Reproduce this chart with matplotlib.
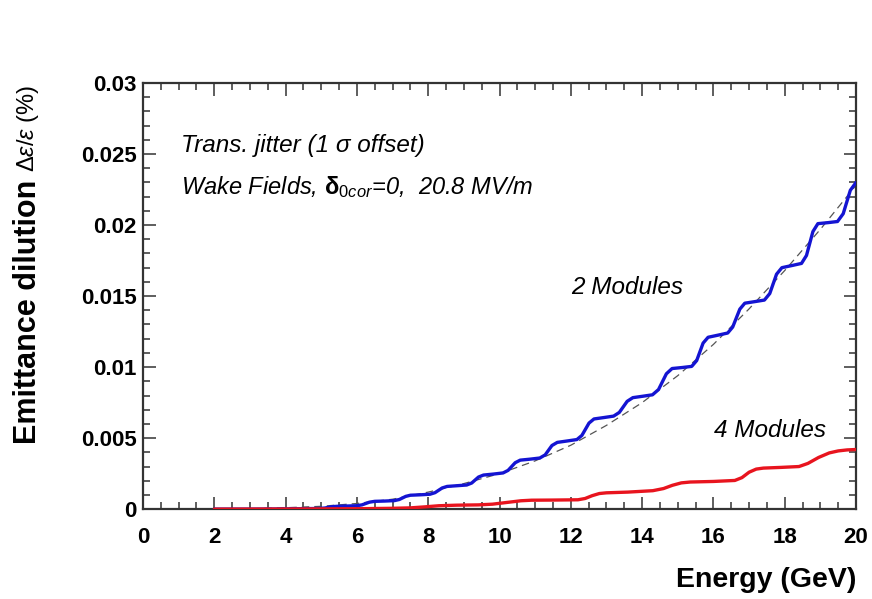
import matplotlib
matplotlib.use("Agg")
import matplotlib.pyplot as plt
from matplotlib.ticker import MultipleLocator

plt.rcParams['font.family'] = ['Liberation Sans', 'DejaVu Sans']
plt.rcParams['mathtext.fontset'] = 'custom'
plt.rcParams['mathtext.rm'] = 'Liberation Sans'
plt.rcParams['mathtext.it'] = 'Liberation Sans:italic'
plt.rcParams['mathtext.bf'] = 'Liberation Sans:bold'

# ---- data ----
blue_E = [2.0, 3.0, 3.8,
          4.40, 4.68, 4.95, 5.10, 5.29,
          5.44, 5.72, 5.99, 6.14, 6.35,
          6.50, 6.78, 7.05, 7.19, 7.37,
          7.50, 7.78, 8.05, 8.19, 8.39,
          8.53, 8.81, 9.08, 9.22, 9.41,
          9.55, 9.83, 10.10, 10.24, 10.44,
          10.58, 10.86, 11.13, 11.28, 11.47,
          11.62, 11.90, 12.17, 12.31, 12.51,
          12.65, 12.93, 13.20, 13.36, 13.58,
          13.74, 14.02, 14.29, 14.46, 14.68,
          14.84, 15.12, 15.39, 15.53, 15.71,
          15.85, 16.13, 16.40, 16.54, 16.74,
          16.88, 17.16, 17.43, 17.58, 17.77,
          17.92, 18.20, 18.47, 18.61, 18.79,
          18.93, 19.21, 19.48, 19.64, 19.84, 20.0]
blue_V = [0.0, 0.0, 0.00001,
          0.00003, 0.00004, 0.00005, 0.00008, 0.00017,
          0.00020, 0.00022, 0.00024, 0.00030, 0.00049,
          0.00055, 0.00057, 0.00060, 0.00068, 0.00090,
          0.00098, 0.00101, 0.00105, 0.00116, 0.00149,
          0.00160, 0.00165, 0.00170, 0.00184, 0.00226,
          0.00240, 0.00247, 0.00255, 0.00273, 0.00327,
          0.00345, 0.00352, 0.00360, 0.00382, 0.00448,
          0.00470, 0.00480, 0.00490, 0.00519, 0.00606,
          0.00635, 0.00645, 0.00655, 0.00681, 0.00759,
          0.00785, 0.00795, 0.00805, 0.00842, 0.00953,
          0.00990, 0.00997, 0.01005, 0.01046, 0.01169,
          0.01210, 0.01225, 0.01240, 0.01282, 0.01408,
          0.01450, 0.01461, 0.01472, 0.01518, 0.01654,
          0.01700, 0.01715, 0.01730, 0.01786, 0.01954,
          0.02010, 0.02017, 0.02025, 0.02080, 0.02245, 0.02300]

red_E = [2.0, 4.0, 6.0, 7.0, 7.5, 7.9, 8.3, 8.8, 9.4, 9.8, 10.2, 10.6, 10.9, 11.5, 12.2,
         12.4, 12.6, 12.8, 13.0, 13.6, 14.3, 14.6, 14.85, 15.1, 15.35, 16.0, 16.6, 16.8,
         17.0, 17.2, 17.4, 17.9, 18.4, 18.65, 18.95, 19.25, 19.5, 19.75, 20.0]
red_V = [0.0, 0.00001, 0.00003, 0.00006, 0.00009, 0.00016, 0.00024, 0.00028, 0.00030,
         0.00035, 0.00047, 0.00059, 0.00063, 0.00064, 0.00066, 0.00075, 0.00095, 0.00110,
         0.00115, 0.00120, 0.00130, 0.00145, 0.00168, 0.00185, 0.00191, 0.00195, 0.00202,
         0.00222, 0.00260, 0.00282, 0.00289, 0.00294, 0.00300, 0.00322, 0.00364, 0.00396,
         0.00410, 0.00417, 0.00420]

fit_E = [2, 3, 4, 5, 6, 7, 8, 9, 10, 11, 12, 13, 14, 15, 16, 17, 18, 19, 20]
fit_V = [0.0, 0.00002, 0.0001, 0.0002, 0.0004, 0.0007, 0.0012, 0.0018, 0.0025, 0.0034,
         0.0045, 0.0059, 0.0075, 0.0094, 0.0116, 0.0141, 0.0168, 0.0197, 0.0228]

x_ticks = [0, 2, 4, 6, 8, 10, 12, 14, 16, 18, 20]
y_ticks = [0, 0.005, 0.01, 0.015, 0.02, 0.025, 0.03]
y_tick_labels = ["0", "0.005", "0.01", "0.015", "0.02", "0.025", "0.03"]

# ---- figure ----
fig = plt.figure(figsize=(8.72, 5.99), dpi=100)
ax = fig.add_axes([0.164, 0.150, 0.8177, 0.7114])

ax.plot(fit_E, fit_V, color="#555555", lw=0.9, ls=(0, (6, 4)), zorder=2)
ax.plot(blue_E, blue_V, color="#1414d2", lw=2.4, zorder=3,
        solid_joinstyle='round', solid_capstyle='round')
ax.plot(red_E, red_V, color="#e8141e", lw=2.4, zorder=4,
        solid_joinstyle='round', solid_capstyle='round')

ax.set_xlim(0, 20)
ax.set_ylim(0, 0.03)
ax.set_xticks(x_ticks)
ax.set_xticklabels([str(t) for t in x_ticks])
ax.set_yticks(y_ticks)
ax.set_yticklabels(y_tick_labels)
ax.xaxis.set_minor_locator(MultipleLocator(0.5))
ax.yaxis.set_minor_locator(MultipleLocator(0.001))
ax.tick_params(which='both', direction='in', top=True, right=True, color="#333333", width=1.1)
ax.tick_params(which='major', length=9, labelsize=16)
ax.tick_params(which='minor', length=5)
ax.tick_params(axis='x', which='major', pad=13)
ax.tick_params(axis='y', which='major', pad=4.5)
for lab in ax.get_xticklabels() + ax.get_yticklabels():
    lab.set_fontweight('bold')
for sp in ax.spines.values():
    sp.set_linewidth(1.6)
    sp.set_color("#333333")

# axis labels
fig.text(28 / 872, 1 - 312 / 599, "Emittance dilution", rotation=90, ha='center', va='center',
         fontsize=22, fontweight='bold')
fig.text(28 / 872, 1 - 128 / 599, r"$\Delta\epsilon/\epsilon$ (%)", rotation=90, ha='center',
         va='center', fontsize=17)
fig.text(856 / 872, 1 - 580 / 599, "Energy (GeV)", ha='right', va='center',
         fontsize=20.5, fontweight='bold')

# annotations
ax.text(1.07, 0.02563, "Trans. jitter (1 σ offset)", fontsize=17.5, style='italic',
        ha='left', va='center')
ax.text(1.07, 0.02268, r"Wake Fields, $\mathbf{\delta}_{\mathit{0cor}}$=0,  20.8 MV/m",
        fontsize=17, style='italic', ha='left', va='center')
ax.text(12.0, 0.01563, "2 Modules", fontsize=17.5, style='italic', ha='left', va='center')
ax.text(16.02, 0.00556, "4 Modules", fontsize=17.5, style='italic', ha='left', va='center')

fig.savefig("out.png", dpi=100)
